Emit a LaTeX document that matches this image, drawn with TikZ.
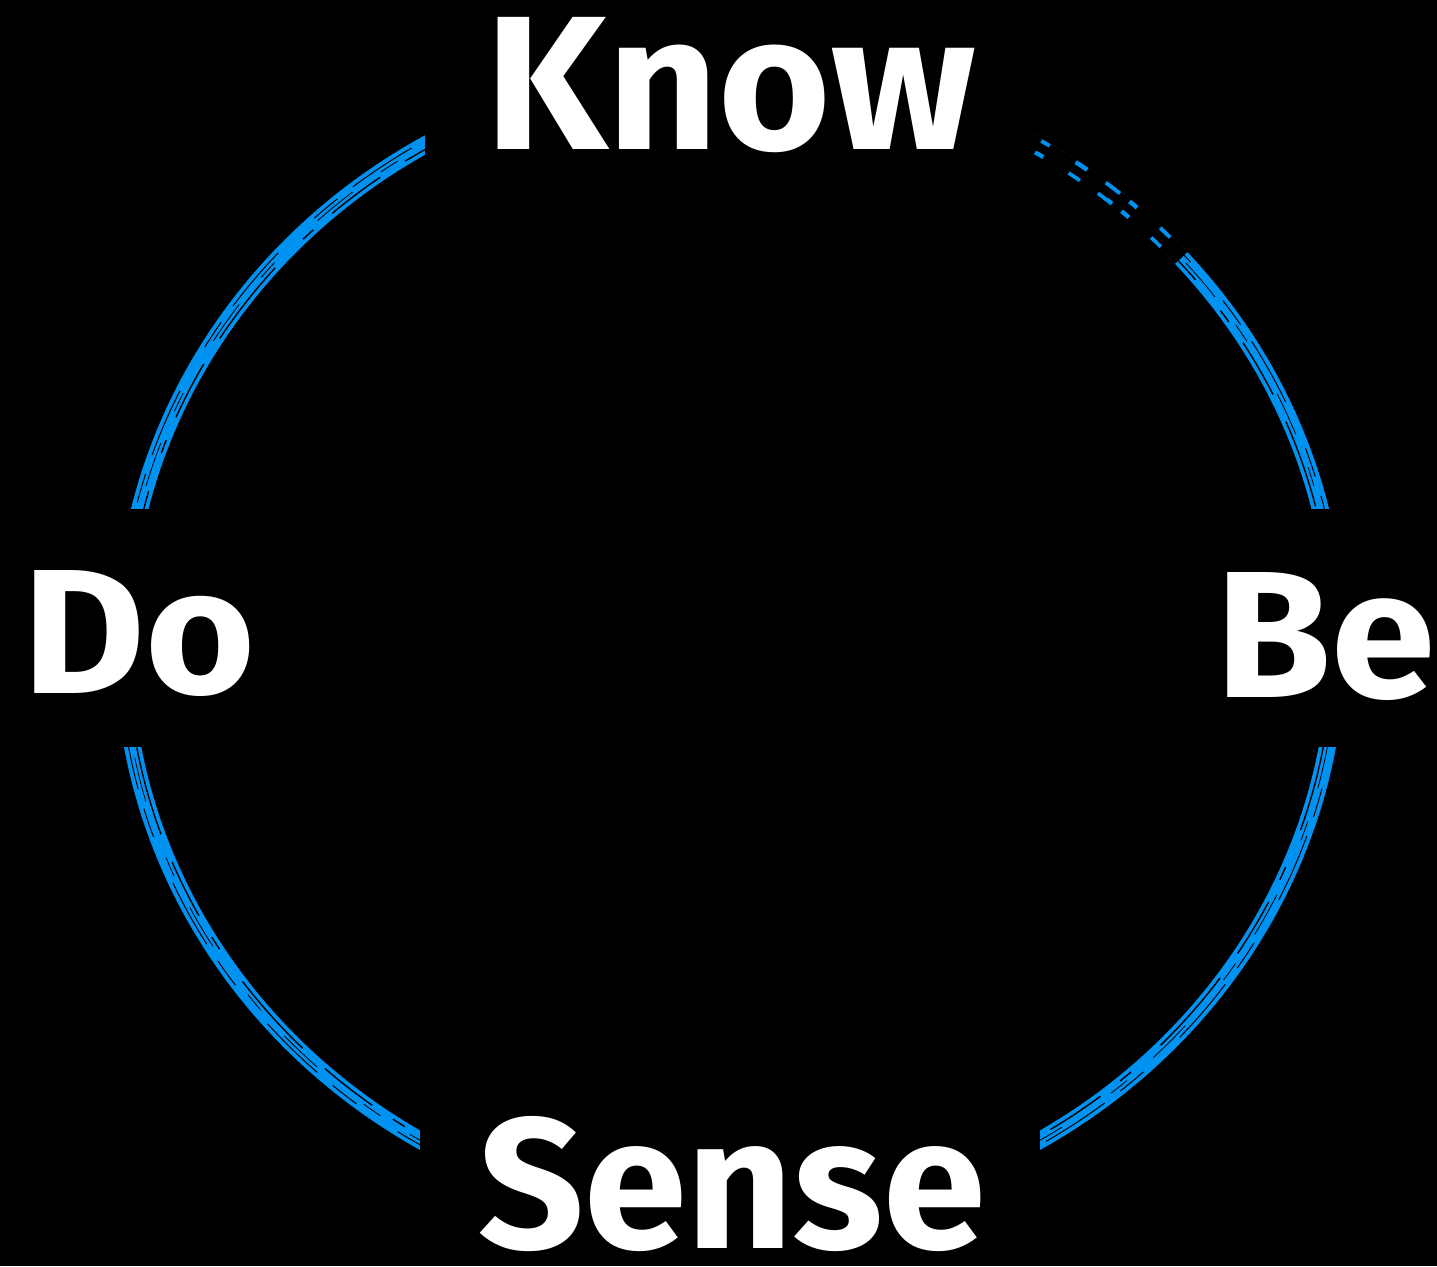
\documentclass[tikz,border=0pt]{standalone}
\usepackage{fontspec}
\setmainfont{Fira Sans}
\usetikzlibrary{calc}
\definecolor{chalkblue}{RGB}{0,146,240}
\begin{document}
\begin{tikzpicture}[x=1pt,y=-1pt,
  ring/.style={draw=chalkblue, line width=17pt},
  streak/.style={draw=black, line width=1.4pt},
  mask/.style={fill=black, draw=none},
  word/.style={text=white, inner sep=0pt, anchor=north west, font=\bfseries}]
\fill[black] (0,0) rectangle (1437,1266);
\useasboundingbox (0,0) rectangle (1437,1266);
\coordinate (C) at (730,644);
% the blue ring
\draw[ring] (C) ellipse [x radius=607pt, y radius=577pt];
% chalk streaks
\draw[streak, dash pattern=on 60pt off 25pt on 14pt off 40pt on 90pt off 30pt] (C) ellipse [x radius=603pt, y radius=573pt];
\draw[streak, line width=1pt, dash pattern=on 30pt off 50pt on 70pt off 20pt] (C) ellipse [x radius=611pt, y radius=581pt];
\draw[streak, line width=0.8pt, dash pattern=on 20pt off 35pt on 45pt off 60pt] (C) ellipse [x radius=607pt, y radius=577pt];
% faint, broken stretch at upper right
\draw[draw=black, line width=8pt] ($(C)+(42:607pt and 577pt)$) arc[start angle=42, end angle=62, x radius=607pt, y radius=577pt];
\draw[draw=black, line width=17.5pt, dash pattern=on 22pt off 14pt on 30pt off 10pt on 12pt off 18pt] ($(C)+(42:607pt and 577pt)$) arc[start angle=42, end angle=62, x radius=607pt, y radius=577pt];
% gaps for the words
\fill[mask] (425,0) rectangle (1033,170);
\fill[mask] (0,509) rectangle (300,747);
\fill[mask] (1150,509) rectangle (1437,747);
\fill[mask] (420,1110) rectangle (1040,1266);
% words
\node[word] (know) at (485,17) {\resizebox{490pt}{132pt}{Know}};
\node[word] (do) at (22,570) {\resizebox{233pt}{123pt}{Do}};
\node[word] (be) at (1215,572) {\resizebox{220pt}{125pt}{Be}};
\node[word] (sense) at (478,1116) {\resizebox{507pt}{132pt}{Sense}};
\end{tikzpicture}
\end{document}
